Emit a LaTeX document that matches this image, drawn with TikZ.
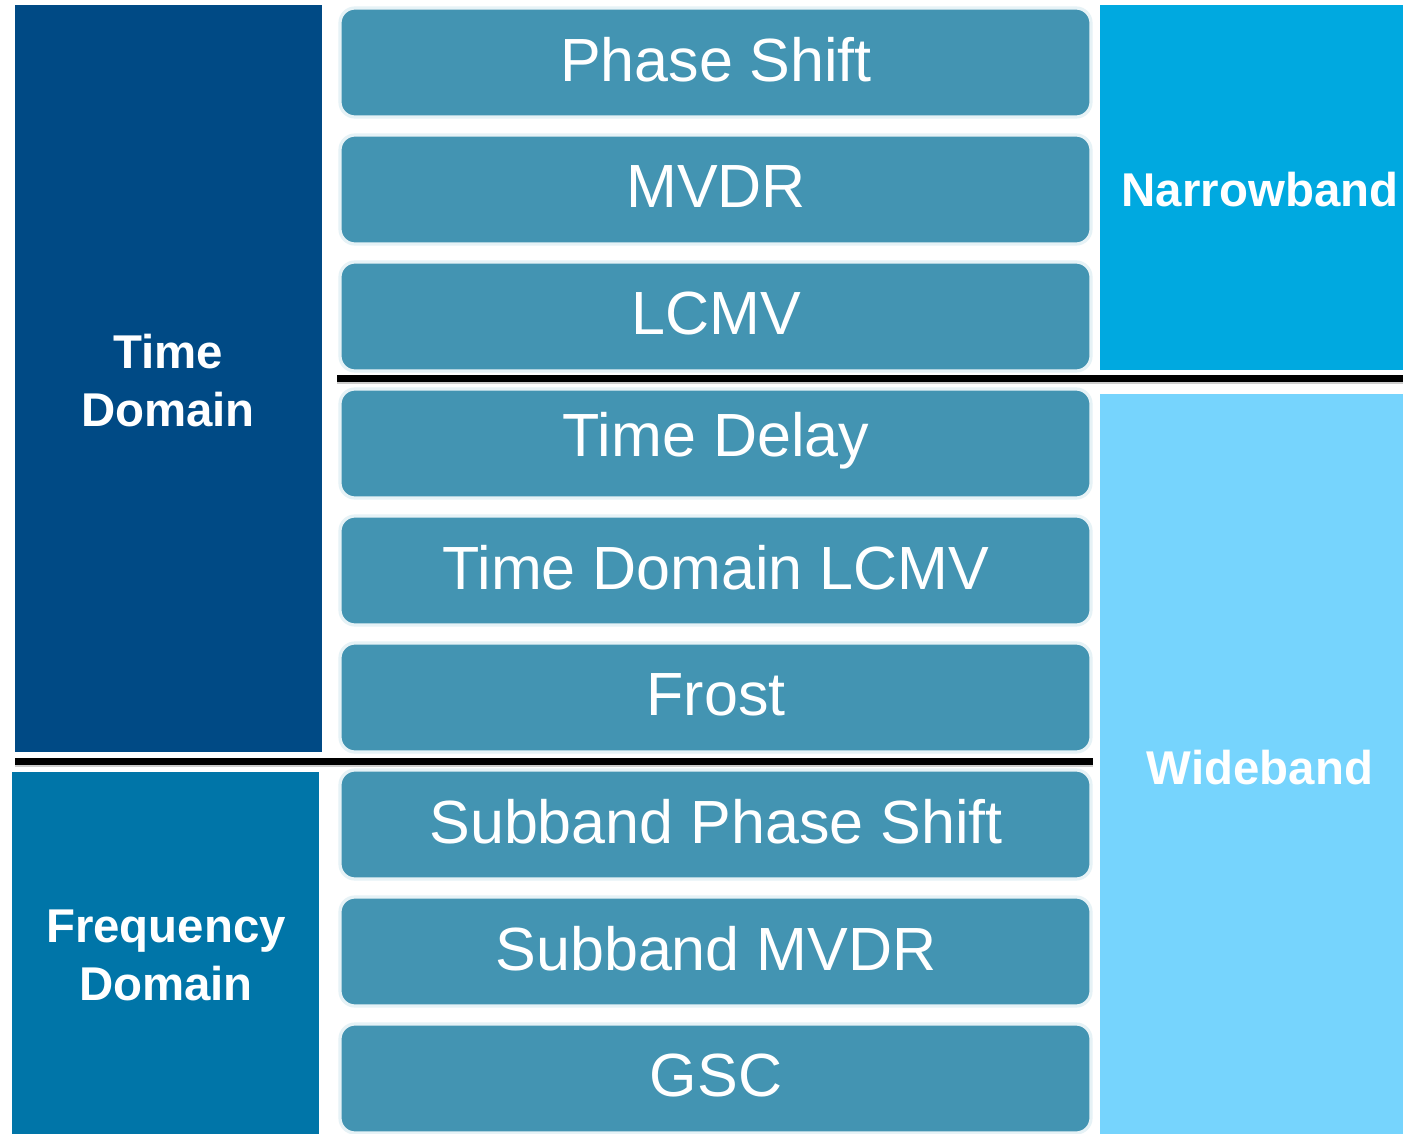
\documentclass[tikz,border=0pt]{standalone}
\usepackage{fontspec}
\setmainfont{Liberation Sans}
\definecolor{boxfill}{HTML}{4394B2}
\definecolor{boxedge}{HTML}{E6F2F6}
\definecolor{timecol}{HTML}{004A85}
\definecolor{freqcol}{HTML}{0075A8}
\definecolor{narrowcol}{HTML}{00A9E0}
\definecolor{widecol}{HTML}{76D4FD}
\tikzset{
  px/.style={x=0.5pt,y=-0.5pt},
  algbox/.style={draw=boxedge,line width=1.6pt,fill=boxfill,rounded corners=7.5pt},
  algtext/.style={text=white,font=\fontsize{30.5}{34}\selectfont,anchor=center,inner sep=0pt},
  sidetext/.style={text=white,font=\fontsize{23.7}{29}\selectfont\bfseries,align=center,anchor=center,inner sep=0pt},
  divline/.style={line width=3.5pt,black},
  divshadow/.style={line width=3pt,black!20}
}
\begin{document}
\begin{tikzpicture}[px]
\useasboundingbox (0,0) rectangle (1403,1134);
\fill[white] (0,0) rectangle (1403,1134);
% side blocks
\fill[timecol] (15,5) rectangle (322,752);
\fill[freqcol] (12,772) rectangle (319,1134);
\fill[narrowcol] (1100,5) rectangle (1403,370);
\fill[widecol] (1100,394) rectangle (1403,1134);
\node[sidetext] (td) at (168,381) {Time\\Domain};
\node[sidetext] (fd) at (166,955) {Frequency\\Domain};
\node[sidetext] (nb) at (1260,190) {Narrowband};
\node[sidetext] (wb) at (1260,768) {Wideband};
% algorithm boxes
\foreach \i/\name/\lab in {0/ps/Phase Shift,1/mvdr/MVDR,2/lcmv/LCMV,3/tdel/Time Delay,4/tdlcmv/Time Domain LCMV,5/frost/Frost,6/sps/Subband Phase Shift,7/smvdr/Subband MVDR,8/gsc/GSC}{
  \pgfmathsetmacro{\top}{8+127*\i}
  \pgfmathsetmacro{\bot}{\top+109}
  \pgfmathsetmacro{\mid}{\top+51.5}
  \draw[algbox] (340,\top) rectangle (1091,\bot);
  \node[algtext] (\name) at (716,\mid) {\lab};
}
% divider lines
\coordinate (l1a) at (337,378);
\coordinate (l1b) at (1403,378);
\coordinate (l2a) at (15,761);
\coordinate (l2b) at (1093,761);
\draw[divshadow] ([yshift=-1.5pt]l1a) -- ([yshift=-1.5pt]l1b);
\draw[divshadow] ([yshift=-1.5pt]l2a) -- ([yshift=-1.5pt]l2b);
\draw[divline] (l1a) -- (l1b);
\draw[divline] (l2a) -- (l2b);
\end{tikzpicture}
\end{document}
